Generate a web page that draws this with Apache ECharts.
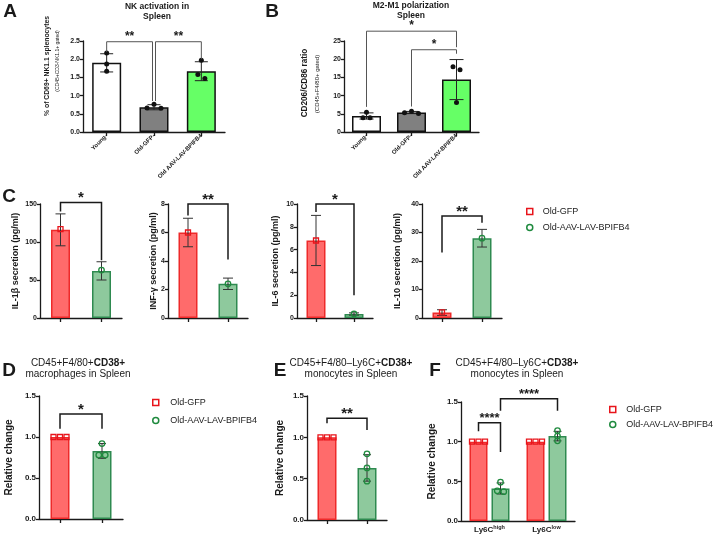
<!DOCTYPE html>
<html><head><meta charset="utf-8">
<script src="https://cdn.jsdelivr.net/npm/echarts@6/dist/echarts.min.js"></script>
<style>html,body{margin:0;padding:0;background:#fff}#c{width:718px;height:538px}</style>
</head><body><div id="c"></div>
<script>
// ================= DATA =================
// Panel A: NK activation in spleen (% CD69+ NK1.1 splenocytes)
const aCats = ['Young-', 'Old-GFP-', 'Old AAV-LAV-BPIFB4'];
const aMeans = [1.90, 0.68, 1.67];
const aSD = [0.25, 0.07, 0.26];
const aPoints = [[2.17, 1.87, 1.67], [0.76, 0.66, 0.65], [1.97, 1.58, 1.47]];
const aBrackets = [[0, 1, 2.48, 2.2, 0.85], [1, 2, 2.48, 0.85, 2.0]];
const aStars = ['**', '**'];

// Panel B: M2-M1 polarization (CD206/CD86 ratio)
const bCats = ['Young-', 'Old-GFP-', 'Old AAV-LAV-BPIFB4'];
const bMeans = [4.4, 5.35, 14.4];
const bSD = [0.85, 0.3, 5.5];
const bPoints = [[5.4, 3.9, 3.9], [5.7, 5.3, 5.1], [17.9, 17.1, 8.1]];
const bBrackets = [[0, 2, 27.7, 6.9, 23.3], [1, 2, 22.6, 7.0, 21.5]];
const bStars = ['*', '*'];

// Panel C: cytokine secretion (pg/ml)
const cGroups = ['Old-GFP', 'Old-AAV-LAV-BPIFB4'];
const il1bMeans = [116, 62], il1bSD = [21, 12], il1bPoints = [[117], [63]];
const il1bBrackets = [[0, 1, 152, 140, 76]], il1bStars = ['*'];
const infgMeans = [6.0, 2.4], infgSD = [1.0, 0.4], infgPoints = [[6.0], [2.4]];
const infgBrackets = [[0, 1, 8.0, 7.2, 4.1]], infgStars = ['**'];
const il6Means = [6.8, 0.35], il6SD = [2.2, 0.1], il6Points = [[6.8], [0.35]];
const il6Brackets = [[0, 1, 10.0, 9.3, 2.0]], il6Stars = ['*'];
const il10Means = [1.9, 28], il10SD = [1.0, 3.1], il10Points = [[2.0], [28]];
const il10Brackets = [[0, 1, 35.8, 23, 33.4]], il10Stars = ['**'];

// Panel D: CD38+ macrophages (relative change)
const dMeans = [1.0, 0.83], dSD = [0, 0.09];
const dPoints = [[1, 1, 1], [0.92, 0.78, 0.78]];
const dBrackets = [[0, 1, 1.28, 1.1, 1.1]], dStars = ['*'];

// Panel E: CD38+ monocytes (relative change)
const eMeans = [1.0, 0.63], eSD = [0, 0.16];
const ePoints = [[1, 1, 1], [0.80, 0.63, 0.47]];
const eBrackets = [[0, 1, 1.23, 1.17, 1.09]], eStars = ['**'];

// Panel F: Ly6C high / low (relative change)
const fCats = ['Ly6C|high', 'Ly6C|low'];
const fGfpMeans = [1.0, 1.0], fGfpSD = [0, 0];
const fGfpPoints = [[1, 1, 1], [1, 1, 1]];
const fAavMeans = [0.41, 1.07], fAavSD = [0.07, 0.06];
const fAavPoints = [[0.49, 0.38, 0.37], [1.14, 1.07, 1.01]];
// [cat1, series1, cat2, series2, top, end1, end2]
const fBrackets = [[0, 0, 0, 1, 1.24, 1.13, 0.87], [0, 1, 1, 1, 1.54, 1.39, 1.39]];
const fStars = ['****', '****'];

// ================= STYLE =================
const FONT = "'Liberation Sans', Arial, Helvetica, sans-serif";
const INK = '#1a1a1a';
const RED_FILL = '#ff6b6b', RED_LINE = '#ee2a2a', RED_PT = '#e8141b';
const GRN_FILL = '#8ec99d', GRN_LINE = '#2e8a50', GRN_PT = '#1f8a3e';

const grids = [], xAxis = [], yAxis = [], series = [], graphic = [];

function addAxes(L, cats) {
  const gi = grids.length;
  grids.push({left: L.left, top: L.top, width: L.width, height: L.height, containLabel: false, outerBoundsMode: 'none'});
  const ls = {color: INK, width: L.axisW || 1.3};
  xAxis.push({gridIndex: gi, type: 'category', data: cats,
    axisLine: {show: true, onZero: false, lineStyle: ls},
    axisTick: {show: L.xTick !== false, alignWithLabel: true, length: 4, lineStyle: ls},
    axisLabel: Object.assign({show: false, interval: 0}, L.xLabel || {}),
    splitLine: {show: false}});
  yAxis.push({gridIndex: gi, type: 'value', min: L.min, max: L.max, interval: L.interval,
    axisLine: {show: true, lineStyle: ls}, axisTick: {show: true, length: 3, lineStyle: ls},
    splitLine: {show: false},
    axisLabel: {fontSize: L.tickFont, fontWeight: 'bold', color: INK, fontFamily: FONT, margin: 3,
      formatter: L.fmt, showMinLabel: true, showMaxLabel: true, hideOverlap: false},
    name: L.yName || '', nameLocation: 'middle', nameRotate: 90, nameGap: L.nameGap || 20,
    nameMoveOverlap: false,
    nameTextStyle: {fontSize: L.nameFont || 9, fontWeight: 'bold', color: INK, fontFamily: FONT}});
  return gi;
}

function spread(vals, ppu, thr, spacing) {
  const idx = vals.map((v, i) => i).sort((a, b) => vals[b] - vals[a]);
  const offs = new Array(vals.length).fill(0);
  const oddPos = [0, -1, 1, -2, 2, -3, 3], evenPos = [-0.5, 0.5, -1.5, 1.5, -2.5, 2.5];
  let cl = [idx[0]];
  const flush = () => {
    const n = cl.length, pos = n % 2 ? oddPos : evenPos;
    cl.forEach((k, j) => { offs[k] = pos[j] * spacing; });
  };
  for (let t = 1; t < idx.length; t++) {
    const prev = cl[cl.length - 1];
    if ((vals[prev] - vals[idx[t]]) * ppu < thr) cl.push(idx[t]);
    else { flush(); cl = [idx[t]]; }
  }
  flush();
  return offs;
}

function errorSeries(gi, items, L) {
  const used = items.filter(it => it.hi > it.lo);
  series.push({type: 'custom', xAxisIndex: gi, yAxisIndex: gi, silent: true, z: 4, clip: false,
    encode: {x: 0, y: [1, 2]},
    data: used.map(it => [it.cat, it.lo, it.hi]),
    renderItem: (params, api) => {
      const it = used[params.dataIndex];
      const lo = api.coord([api.value(0), api.value(1)]), hi = api.coord([api.value(0), api.value(2)]);
      const x = lo[0] + it.off, c = L.cap;
      const st = {stroke: L.errColor || '#333', lineWidth: L.errW || 1};
      return {type: 'group', children: [
        {type: 'line', shape: {x1: x, y1: lo[1], x2: x, y2: hi[1]}, style: st},
        {type: 'line', shape: {x1: x - c, y1: hi[1], x2: x + c, y2: hi[1]}, style: st},
        {type: 'line', shape: {x1: x - c, y1: lo[1], x2: x + c, y2: lo[1]}, style: st}]};
    }});
}

function bracketSeries(gi, br, stars, L, slotOff) {
  series.push({type: 'custom', xAxisIndex: gi, yAxisIndex: gi, silent: true, clip: false, z: 6,
    encode: {x: [0, 1], y: [2, 3, 4]},
    data: br.map(b => [b[0], b[2], b[4], b[5], b[6]]),
    renderItem: (params, api) => {
      const b = br[params.dataIndex];
      const nd = (L.nudge && L.nudge[params.dataIndex]) || [0, 0];
      const p1 = api.coord([api.value(0), api.value(3)]), p2 = api.coord([api.value(1), api.value(4)]);
      const t = api.coord([api.value(0), api.value(2)]);
      const x1 = p1[0] + slotOff(b[1]) + nd[0], x2 = p2[0] + slotOff(b[3]) + nd[1], yT = t[1];
      return {type: 'group', children: [
        {type: 'polyline', shape: {points: [[x1, p1[1]], [x1, yT], [x2, yT], [x2, p2[1]]]},
          style: {stroke: L.brColor || INK, lineWidth: L.brW || 1.5, fill: 'none'}},
        {type: 'text', x: (x1 + x2) / 2, y: yT - L.starGap,
          style: {text: stars[params.dataIndex], align: 'center', verticalAlign: 'middle',
            fontSize: L.starFont, fontWeight: 'bold', fontFamily: FONT, fill: INK}}]};
    }});
}

function pointSeries(gi, L, pts, cat, off, ps, name) {
  const ppu = L.height / (L.max - L.min);
  const offs = spread(pts, ppu, L.thr || 4.5, L.spacing || 6.5);
  series.push({type: 'scatter', name: name, xAxisIndex: gi, yAxisIndex: gi, z: 5, silent: true,
    symbol: ps.symbol, symbolSize: ps.size,
    itemStyle: {color: ps.fill, borderColor: ps.color, borderWidth: ps.bw, opacity: 1},
    data: pts.map((v, k) => ({value: [cat, v], symbolOffset: [off + offs[k], 0]}))});
}

function buildSingle(L, D) {
  const gi = addAxes(L, D.cats);
  series.push({type: 'bar', xAxisIndex: gi, yAxisIndex: gi, barWidth: L.barWidth, z: 2, silent: true,
    data: D.means.map((m, j) => ({value: m, itemStyle: {color: L.fills[j], borderColor: L.lines[j], borderWidth: L.barBorder}}))});
  errorSeries(gi, D.means.map((m, j) => ({cat: j, lo: m - D.sd[j], hi: m + D.sd[j], off: 0})), L);
  D.points.forEach((pts, j) => pointSeries(gi, L, pts, j, 0, L.pt[j], L.ptNames ? L.ptNames[j] : undefined));
  bracketSeries(gi, D.brackets.map(b => [b[0], 0, b[1], 0, b[2], b[3], b[4]]), D.stars, L, () => 0);
}

const blackDot = {symbol: 'circle', size: 5, fill: '#111', color: '#111', bw: 0};
const redSq = {symbol: 'rect', size: 5, fill: 'rgba(0,0,0,0)', color: RED_PT, bw: 1.3};
const grnCi = {symbol: 'circle', size: 5.5, fill: 'rgba(0,0,0,0)', color: GRN_PT, bw: 1.3};
const abXLabel = {show: true, rotate: 45, fontSize: 6, fontWeight: 'bold', color: INK, fontFamily: FONT, margin: 3};

// ---- A ----
buildSingle({left: 83, top: 41, width: 142, height: 91, min: 0, max: 2.5, interval: 0.5, fmt: v => v.toFixed(1),
  tickFont: 7, xLabel: abXLabel, barWidth: 29, barBorder: 1.5,
  fills: ['#ffffff', '#808080', '#66ff66'], lines: ['#111', '#111', '#111'], pt: [blackDot, blackDot, blackDot],
  cap: 6.5, errColor: '#222', thr: 4.5, spacing: 7, brColor: '#555', brW: 1, starGap: 5, starFont: 12,
  nudge: [[0, -1.5], [1.5, 0]]},
  {cats: aCats, means: aMeans, sd: aSD, points: aPoints, brackets: aBrackets, stars: aStars});

// ---- B ----
buildSingle({left: 344, top: 41, width: 135, height: 91, min: 0, max: 25, interval: 5, fmt: v => String(v),
  tickFont: 7, xLabel: abXLabel, barWidth: 29, barBorder: 1.5,
  fills: ['#ffffff', '#808080', '#66ff66'], lines: ['#111', '#111', '#111'], pt: [blackDot, blackDot, blackDot],
  cap: 7, errColor: '#222', thr: 4.5, spacing: 7, brColor: '#555', brW: 1, starGap: 5, starFont: 12},
  {cats: bCats, means: bMeans, sd: bSD, points: bPoints, brackets: bBrackets, stars: bStars});

// ---- C ----
const cStyle = {top: 204, height: 114, min: 0, tickFont: 7, barWidth: 19, barBorder: 1.5,
  fills: [RED_FILL, GRN_FILL], lines: [RED_LINE, GRN_LINE], pt: [redSq, grnCi], ptNames: cGroups,
  cap: 5, errColor: '#333', starGap: 4.5, starFont: 15, nameFont: 9, brW: 1.5};
buildSingle(Object.assign({}, cStyle, {left: 40, width: 82, max: 150, interval: 50, yName: 'IL-1β secretion (pg/ml)', nameGap: 20}),
  {cats: cGroups, means: il1bMeans, sd: il1bSD, points: il1bPoints, brackets: il1bBrackets, stars: il1bStars});
buildSingle(Object.assign({}, cStyle, {left: 168, width: 80, max: 8, interval: 2, yName: 'INF-γ secretion (pg/ml)', nameGap: 10}),
  {cats: cGroups, means: infgMeans, sd: infgSD, points: infgPoints, brackets: infgBrackets, stars: infgStars});
buildSingle(Object.assign({}, cStyle, {left: 297, width: 76, max: 10, interval: 2, yName: 'IL-6 secretion (pg/ml)', nameGap: 17}),
  {cats: cGroups, means: il6Means, sd: il6SD, points: il6Points, brackets: il6Brackets, stars: il6Stars});
buildSingle(Object.assign({}, cStyle, {left: 422, width: 80, max: 40, interval: 10, yName: 'IL-10 secretion (pg/ml)', nameGap: 20}),
  {cats: cGroups, means: il10Means, sd: il10SD, points: il10Points, brackets: il10Brackets, stars: il10Stars});

// ---- D / E ----
const deStyle = {min: 0, max: 1.5, interval: 0.5, fmt: v => v.toFixed(1), tickFont: 8, barWidth: 19, barBorder: 1.5,
  fills: [RED_FILL, GRN_FILL], lines: [RED_LINE, GRN_LINE], pt: [redSq, grnCi], ptNames: cGroups,
  cap: 4, errColor: '#333', thr: 4.5, spacing: 6.5, starGap: 4.5, starFont: 15, nameFont: 10, yName: 'Relative change', brW: 1.5};
buildSingle(Object.assign({}, deStyle, {left: 39, top: 396, width: 84, height: 123, nameGap: 25}),
  {cats: cGroups, means: dMeans, sd: dSD, points: dPoints, brackets: dBrackets, stars: dStars});
buildSingle(Object.assign({}, deStyle, {left: 307, top: 396, width: 80, height: 124, nameGap: 22}),
  {cats: cGroups, means: eMeans, sd: eSD, points: ePoints, brackets: eBrackets, stars: eStars});

// ---- F ----
(function () {
  const L = Object.assign({}, deStyle, {left: 461, top: 402, width: 114, height: 119, nameGap: 24, xTick: false,
    starFont: 13, starGap: 4,
    xLabel: {show: true, margin: 3, color: INK, fontFamily: FONT,
      formatter: v => { const p = v.split('|'); return '{b|' + p[0] + '}{s|' + p[1] + '}'; },
      rich: {b: {fontSize: 8, fontWeight: 'bold', color: INK, fontFamily: FONT},
             s: {fontSize: 5.5, fontWeight: 'bold', color: INK, fontFamily: FONT, padding: [0, 0, 5, 0]}}}});
  const gi = addAxes(L, fCats);
  const bw = 18, gap = 4, off = s => (s === 0 ? -1 : 1) * (bw + gap) / 2;
  const groups = [
    {means: fGfpMeans, sd: fGfpSD, pts: fGfpPoints, fill: RED_FILL, line: RED_LINE, ps: redSq, name: cGroups[0]},
    {means: fAavMeans, sd: fAavSD, pts: fAavPoints, fill: GRN_FILL, line: GRN_LINE, ps: grnCi, name: cGroups[1]}];
  groups.forEach((g, s) => {
    series.push({type: 'bar', xAxisIndex: gi, yAxisIndex: gi, barWidth: bw, barGap: (gap / bw * 100) + '%', z: 2, silent: true,
      itemStyle: {color: g.fill, borderColor: g.line, borderWidth: 1.5}, data: g.means});
  });
  const errItems = [];
  groups.forEach((g, s) => g.means.forEach((m, j) => errItems.push({cat: j, lo: m - g.sd[j], hi: m + g.sd[j], off: off(s)})));
  errorSeries(gi, errItems, L);
  groups.forEach((g, s) => g.pts.forEach((pts, j) => pointSeries(gi, L, pts, j, off(s), g.ps, g.name)));
  bracketSeries(gi, fBrackets, fStars, L, off);
})();

// ================= TEXT (titles, letters, labels) =================
function gtext(x, y, text, st, rot) {
  graphic.push({type: 'text', x: x, y: y, rotation: rot || 0, silent: true,
    style: Object.assign({text: text, align: 'center', verticalAlign: 'middle', fill: INK, fontFamily: FONT}, st)});
}
const letter = {fontSize: 19, fontWeight: 'bold'};
gtext(10, 12, 'A', letter); gtext(272, 12, 'B', letter); gtext(9, 197, 'C', letter);
gtext(9, 371, 'D', letter); gtext(280, 371, 'E', letter); gtext(435, 371, 'F', letter);

const ttl = {fontSize: 8.5, fontWeight: 'bold'};
gtext(157, 7, 'NK activation in', ttl); gtext(157, 17, 'Spleen', ttl);
gtext(411, 6, 'M2-M1 polarization', ttl); gtext(411, 16, 'Spleen', ttl);

gtext(47, 66, '% of CD69+ NK1.1 splenocytes', {fontSize: 6.8, fontWeight: 'bold'}, Math.PI / 2);
gtext(58, 61, '(CD45+CD3-NK1.1+ gated)', {fontSize: 5}, Math.PI / 2);
gtext(305, 83, 'CD206/CD86 ratio', {fontSize: 8.2, fontWeight: 'bold'}, Math.PI / 2);
gtext(317, 84, '(CD45+F4/80+ gated)', {fontSize: 6}, Math.PI / 2);

const richT = {n: {fontSize: 10, fontFamily: FONT, fill: INK}, b: {fontSize: 10, fontWeight: 'bold', fontFamily: FONT, fill: INK}};
function title2(x, l1a, l1b, l2) {
  gtext(x, 363, '{n|' + l1a + '}{b|' + l1b + '}', {rich: richT});
  gtext(x, 374, l2, {fontSize: 10});
}
title2(78, 'CD45+F4/80+', 'CD38+', 'macrophages in Spleen');
title2(351, 'CD45+F4/80–Ly6C+', 'CD38+', 'monocytes in Spleen');
title2(517, 'CD45+F4/80–Ly6C+', 'CD38+', 'monocytes in Spleen');

// ================= LEGENDS =================
const legItems = [
  {name: cGroups[0], icon: 'path://M0,0H10V10H0Z', itemStyle: {color: 'rgba(0,0,0,0)', borderColor: RED_PT, borderWidth: 1.5}},
  {name: cGroups[1], icon: 'circle', itemStyle: {color: 'rgba(0,0,0,0)', borderColor: GRN_PT, borderWidth: 1.5}}];
function leg(left, top, w, gap) {
  return {left: left, top: top, orient: 'vertical', itemWidth: w, itemHeight: 6, itemGap: gap, padding: 0,
    selectedMode: false, symbolKeepAspect: true, data: legItems,
    textStyle: {fontSize: 9, color: '#222', fontFamily: FONT}};
}

const chart = echarts.init(document.getElementById('c'), null, {width: 718, height: 538});
chart.setOption({
  animation: false,
  backgroundColor: '#ffffff',
  grid: grids, xAxis: xAxis, yAxis: yAxis, series: series, graphic: graphic,
  legend: [leg(526, 207, 16, 7), leg(152, 398, 19, 9), leg(609, 405, 17, 6)]
});
</script>
</body></html>
